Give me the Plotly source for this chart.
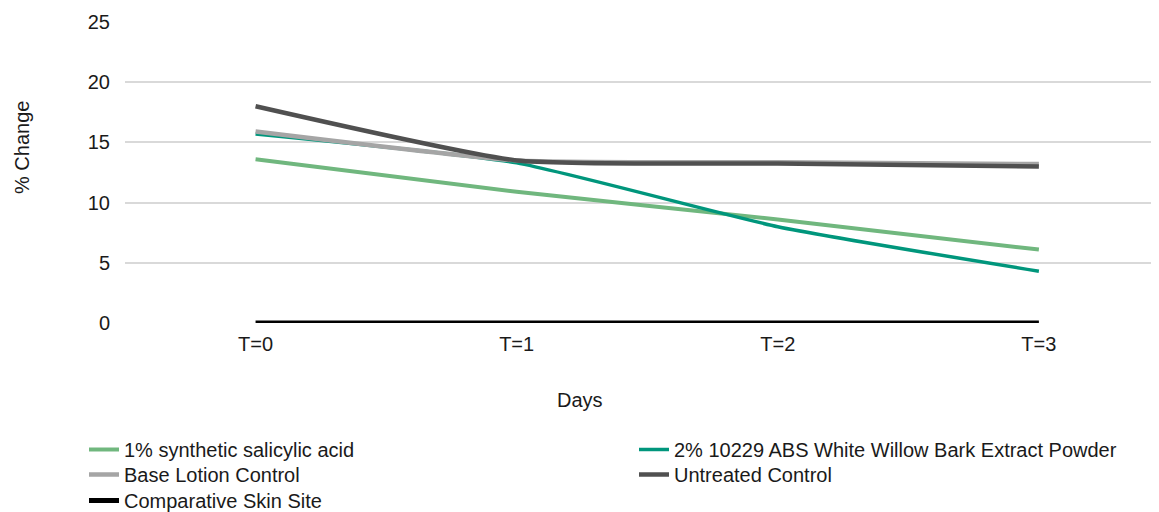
import plotly.graph_objects as go

days = ["T=0", "T=1", "T=2", "T=3"]
series_names = [
    "1% synthetic salicylic acid",
    "2% 10229 ABS White Willow Bark Extract Powder",
    "Base Lotion Control",
    "Untreated Control",
    "Comparative Skin Site",
]
salicylic = [13.6, 10.9, 8.6, 6.1]
willow = [15.7, 13.3, 8.0, 4.3]
base_lotion = [15.9, 13.5, 13.35, 13.2]
untreated = [18.0, 13.5, 13.25, 13.0]
comparative = [0, 0, 0, 0]
y_ticks = [0, 5, 10, 15, 20, 25]

colors = ["#70B77E", "#00967C", "#A5A5A5", "#505050", "#000000"]
widths = [4, 3.5, 4.5, 4.5, 5]
values = [salicylic, willow, base_lotion, untreated, comparative]

# legend grid: (column, row) of each entry, as in the reference
legend_ids = ["legend", "legend2", "legend3", "legend4", "legend5"]
legend_cols = [0, 1, 0, 1, 0]
legend_rows = [0, 0, 1, 1, 2]

fig = go.Figure()
for name, vals, c, w, lg in zip(series_names, values, colors, widths, legend_ids):
    fig.add_trace(go.Scatter(
        x=days, y=vals, name=name, mode="lines", legend=lg,
        line=dict(color=c, width=w, shape="spline", smoothing=0.5),
    ))

# page has an 8px body margin; target plot area in page px: x 125..1159, y 22..323
OFF = 8
W, H = 1159 - OFF, 512 - OFF
L, T, B = 125 - OFF, 22 - OFF, (OFF + H) - 323
pw, ph = 1159 - 125, 323 - 22

def px(x):
    return (x - 125) / pw

def py(y):
    return (323 - y) / ph

txt = "#1A1A1A"
font = "Liberation Sans, Arial, sans-serif"
col_x = [84, 634]          # page px of legend box left edge per column
row_top = [430, 455, 481]  # page px of legend box top per row

legends = {}
for lg, cidx, ridx in zip(legend_ids, legend_cols, legend_rows):
    legends[lg] = dict(
        orientation="v", xref="container", yref="container",
        xanchor="left", yanchor="top",
        x=(col_x[cidx] - OFF) / W, y=1 - (row_top[ridx] - OFF) / H,
        font=dict(size=20, color=txt), tracegroupgap=0,
        bgcolor="rgba(0,0,0,0)", borderwidth=0,
    )

fig.update_layout(
    width=W, height=H,
    margin=dict(l=L, r=0, t=T, b=B, autoexpand=False),
    plot_bgcolor="white", paper_bgcolor="white",
    font=dict(family=font, size=20, color=txt),
    showlegend=True,
    xaxis=dict(
        type="category", range=[-0.5, 3.46], showgrid=False,
        showline=False, ticks="", tickfont=dict(size=20, color=txt),
        zeroline=False, ticklabelstandoff=7,
    ),
    yaxis=dict(
        range=[0, 25], tickvals=y_ticks, showgrid=True, gridcolor="#D9D9D9",
        gridwidth=1.5, zeroline=False, showline=False, ticks="",
        ticklabelstandoff=14, tickfont=dict(size=20, color=txt),
    ),
    annotations=[
        dict(text="% Change", x=px(22), y=py(148), xref="paper", yref="paper",
             xanchor="center", yanchor="middle",
             showarrow=False, textangle=-90, font=dict(size=20, color=txt)),
        dict(text="Days", x=px(580), y=py(400), xref="paper", yref="paper",
             xanchor="center", yanchor="middle",
             showarrow=False, font=dict(size=20, color=txt)),
    ],
    **legends,
)

fig.write_html("out.html")
